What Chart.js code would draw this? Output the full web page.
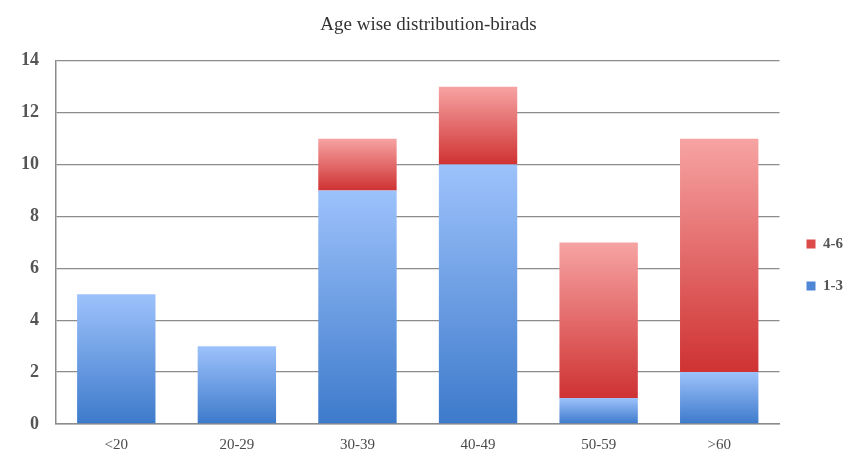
<!DOCTYPE html>
<html>
<head>
<meta charset="utf-8">
<script src="https://cdn.jsdelivr.net/npm/chart.js@4.4.1/dist/chart.umd.min.js"></script>
<style>
  html, body { margin: 0; padding: 0; background: #ffffff; }
  #wrap { width: 863px; height: 468px; }
</style>
</head>
<body>
<div id="wrap"><canvas id="c" width="863" height="468"></canvas></div>
<script>
// Age groups and counts per BIRADS group
const ageGroups = ['<20', '20-29', '30-39', '40-49', '50-59', '>60'];
const birads13 = [5, 3, 9, 10, 1, 2];
const birads46 = [0, 0, 2, 3, 6, 9];
const seriesNames = ['1-3', '4-6'];
const yTicks = [0, 2, 4, 6, 8, 10, 12, 14];

// Vertical gradient per bar segment: light at the top, deep at the base
function segmentGradient(light, dark) {
  return function (ctx) {
    const chart = ctx.chart;
    if (!chart.chartArea || ctx.type !== 'data') return dark;
    const y = chart.scales.y;
    let base = 0;
    for (let d = 0; d < ctx.datasetIndex; d++) {
      base += chart.data.datasets[d].data[ctx.dataIndex] || 0;
    }
    const top = base + (ctx.raw || 0);
    const yTop = y.getPixelForValue(top);
    const yBot = y.getPixelForValue(base);
    if (!isFinite(yTop) || !isFinite(yBot) || yTop === yBot) return dark;
    const g = chart.ctx.createLinearGradient(0, yTop, 0, yBot);
    g.addColorStop(0, light);
    g.addColorStop(1, dark);
    return g;
  };
}

new Chart(document.getElementById('c'), {
  type: 'bar',
  data: {
    labels: ageGroups,
    datasets: [
      {
        label: seriesNames[0],
        data: birads13,
        backgroundColor: segmentGradient('#9dc2fb', '#3d7acb'),
        borderWidth: 0,
        barPercentage: 0.65,
        categoryPercentage: 1.0
      },
      {
        label: seriesNames[1],
        data: birads46,
        backgroundColor: segmentGradient('#f7a3a3', '#cf3232'),
        borderWidth: 0,
        barPercentage: 0.65,
        categoryPercentage: 1.0
      }
    ]
  },
  options: {
    responsive: false,
    animation: false,
    layout: { padding: { top: 8, right: 10, left: 4, bottom: 2 } },
    plugins: {
      title: {
        display: true,
        text: 'Age wise distribution-birads',
        color: '#333333',
        font: { family: '"Liberation Serif", "DejaVu Serif", serif', size: 19, weight: 'normal' },
        padding: { top: 6, bottom: 24 }
      },
      legend: {
        position: 'right',
        reverse: true,
        // blank title block pushes the legend entries a little lower
        title: {
          display: true,
          text: ' ',
          font: { size: 10 },
          padding: { top: 0, bottom: 44 }
        },
        labels: {
          color: '#555555',
          boxWidth: 9,
          boxHeight: 9,
          padding: 27,
          font: { family: '"Liberation Serif", "DejaVu Serif", serif', size: 15, weight: 'bold' },
          generateLabels: function (chart) {
            const cols = ['#4f86d6', '#dc4a4a'];
            return chart.data.datasets.map((ds, i) => ({
              text: ds.label,
              fillStyle: cols[i],
              strokeStyle: cols[i],
              lineWidth: 0,
              hidden: false,
              datasetIndex: i,
              fontColor: '#555555'
            }));
          }
        }
      },
      tooltip: { enabled: false }
    },
    scales: {
      x: {
        stacked: true,
        grid: { display: false, drawTicks: false },
        border: { display: true, color: '#8c8c8c', width: 1.5 },
        ticks: {
          color: '#4a4a4a',
          padding: 12,
          font: { family: '"Liberation Serif", "DejaVu Serif", serif', size: 15 }
        }
      },
      y: {
        stacked: true,
        min: 0,
        max: 14,
        afterBuildTicks: function (axis) {
          axis.ticks = yTicks.map(v => ({ value: v }));
        },
        grid: { color: '#8c8c8c', lineWidth: 1.3, drawTicks: false },
        border: { display: true, color: '#8c8c8c', width: 1.5 },
        ticks: {
          color: '#555555',
          padding: 17,
          font: { family: '"Liberation Serif", "DejaVu Serif", serif', size: 18, weight: 'bold' }
        }
      }
    }
  }
});
</script>
</body>
</html>
